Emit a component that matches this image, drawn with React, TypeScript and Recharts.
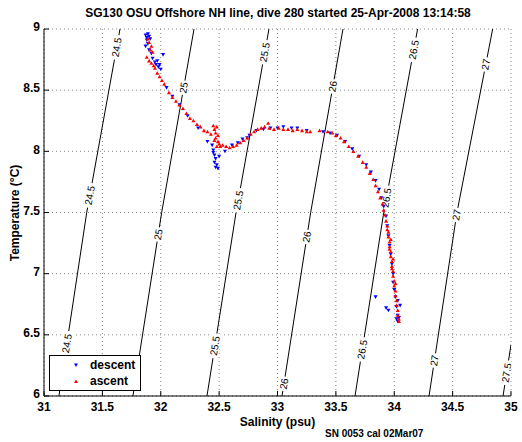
import {
  CartesianGrid,
  ComposedChart,
  Legend,
  Line,
  Scatter,
  XAxis,
  YAxis,
} from 'recharts';

const SALINITY_TICKS = [31, 31.5, 32, 32.5, 33, 33.5, 34, 34.5, 35];
const TEMP_TICKS = [6, 6.5, 7, 7.5, 8, 8.5, 9];

// sigma-t isopycnals as [salinity, temperature]
const SIGMA_24_5 = [[31.128, 6], [31.366, 7.5], [31.651, 9]];
const SIGMA_25 = [[31.762, 6], [32.008, 7.5], [32.285, 9]];
const SIGMA_25_5 = [[32.396, 6], [32.645, 7.5], [32.927, 9]];
const SIGMA_26 = [[33.039, 6], [33.284, 7.5], [33.561, 9]];
const SIGMA_26_5 = [[33.664, 6], [33.91, 7.5], [34.2, 9]];
const SIGMA_27 = [[34.298, 6], [34.537, 7.5], [34.843, 9]];
const SIGMA_27_5 = [[34.932, 6], [35.0, 6.42]];

// temperatures where each contour carries its label
const LABELS_24_5 = [8.85, 7.64, 6.43];
const LABELS_25 = [8.52, 7.32];
const LABELS_25_5 = [8.81, 7.6, 6.41];
const LABELS_26 = [8.53, 7.3, 6.1];
const LABELS_26_5 = [8.83, 7.62, 6.38];
const LABELS_27 = [8.71, 7.48, 6.29];
const LABELS_27_5 = [6.19];

const DESCENT = [
  [31.87, 8.95], [31.88, 8.93], [31.89, 8.96], [31.9, 8.94], [31.88, 8.91],
  [31.91, 8.92], [31.89, 8.88], [31.87, 8.86], [31.9, 8.83], [31.92, 8.8],
  [31.93, 8.76], [31.95, 8.73], [31.96, 8.71], [31.98, 8.69], [31.97, 8.74],
  [32.0, 8.67], [31.99, 8.71], [32.02, 8.79], [32.05, 8.52], [32.1, 8.45],
  [32.16, 8.38], [32.23, 8.29], [32.32, 8.19], [32.4, 8.08], [32.44, 8.05],
  [32.45, 8.01], [32.46, 7.97], [32.47, 7.94], [32.46, 7.91], [32.48, 7.89],
  [32.47, 7.87], [32.49, 7.86], [32.45, 7.99], [32.5, 7.96], [32.55, 8.0],
  [32.61, 8.05], [32.66, 8.07], [32.7, 8.1], [32.74, 8.11], [32.76, 8.13],
  [32.82, 8.17], [32.88, 8.18], [32.94, 8.19], [33.0, 8.19], [33.05, 8.2],
  [33.12, 8.19], [33.17, 8.19], [33.25, 8.17], [33.39, 8.16], [33.45, 8.15],
  [33.51, 8.13], [33.58, 8.08], [33.64, 8.02], [33.7, 7.96], [33.76, 7.89],
  [33.8, 7.83], [33.84, 7.76], [33.87, 7.69], [33.89, 7.62], [33.91, 7.55],
  [33.93, 7.47], [33.94, 7.39], [33.95, 7.31], [33.96, 7.23], [33.97, 7.16],
  [33.98, 7.08], [33.99, 7.0], [33.99, 6.93], [34.0, 6.87], [34.01, 6.81],
  [34.02, 6.73], [34.03, 6.66], [34.02, 6.63], [34.04, 6.64], [33.84, 6.81],
  [33.93, 6.72], [33.95, 6.7], [34.03, 6.78], [34.05, 6.74], [34.03, 6.61],
];

const ASCENT = [
  [31.89, 8.92], [31.9, 8.89], [31.92, 8.86], [31.91, 8.83], [31.93, 8.81],
  [31.88, 8.77], [31.9, 8.74], [31.92, 8.72], [31.94, 8.7], [31.95, 8.68],
  [31.97, 8.64], [31.99, 8.61], [32.01, 8.58], [32.03, 8.55], [32.07, 8.48],
  [32.1, 8.44], [32.13, 8.41], [32.16, 8.38], [32.19, 8.35], [32.22, 8.31],
  [32.25, 8.27], [32.28, 8.25], [32.31, 8.22], [32.34, 8.2], [32.37, 8.17],
  [32.4, 8.16], [32.43, 8.14], [32.45, 8.21], [32.46, 8.18], [32.47, 8.15],
  [32.48, 8.2], [32.49, 8.13], [32.47, 8.11], [32.46, 8.09], [32.49, 8.08],
  [32.5, 8.06], [32.51, 8.04], [32.48, 8.04], [32.53, 8.05], [32.56, 8.04],
  [32.59, 8.03], [32.62, 8.04], [32.65, 8.05], [32.68, 8.07], [32.71, 8.09],
  [32.74, 8.11], [32.77, 8.14], [32.8, 8.16], [32.83, 8.18], [32.86, 8.19],
  [32.89, 8.2], [32.92, 8.23], [32.93, 8.19], [32.97, 8.18], [33.01, 8.19],
  [33.05, 8.18], [33.09, 8.18], [33.13, 8.17], [33.17, 8.18], [33.21, 8.17],
  [33.25, 8.16], [33.28, 8.16], [33.36, 8.17], [33.43, 8.16], [33.47, 8.15],
  [33.5, 8.13], [33.54, 8.11], [33.57, 8.08], [33.61, 8.04], [33.65, 8.0],
  [33.69, 7.96], [33.73, 7.91], [33.76, 7.87], [33.79, 7.82], [33.82, 7.77],
  [33.84, 7.72], [33.86, 7.67], [33.88, 7.62], [33.9, 7.57], [33.91, 7.52],
  [33.92, 7.48], [33.93, 7.43], [33.94, 7.39], [33.95, 7.34], [33.95, 7.3],
  [33.96, 7.26], [33.96, 7.22], [33.97, 7.18], [33.97, 7.14], [33.98, 7.1],
  [33.98, 7.06], [33.99, 7.02], [33.99, 6.98], [34.0, 6.94], [34.0, 6.9],
  [34.01, 6.86], [34.01, 6.82], [34.02, 6.78], [34.02, 6.74], [34.03, 6.7],
  [34.03, 6.66], [34.04, 6.63], [34.04, 6.61], [33.94, 7.36], [33.96, 7.2],
  [33.98, 7.04], [33.97, 7.28], [33.99, 7.12], [34.01, 6.92],
];

const ISOPYCNALS = [
  { level: '24.5', pts: SIGMA_24_5, labels: LABELS_24_5 },
  { level: '25', pts: SIGMA_25, labels: LABELS_25 },
  { level: '25.5', pts: SIGMA_25_5, labels: LABELS_25_5 },
  { level: '26', pts: SIGMA_26, labels: LABELS_26 },
  { level: '26.5', pts: SIGMA_26_5, labels: LABELS_26_5 },
  { level: '27', pts: SIGMA_27, labels: LABELS_27 },
  { level: '27.5', pts: SIGMA_27_5, labels: LABELS_27_5 },
];

const FONT = '"Liberation Sans", Arial, Helvetica, sans-serif';

const toRows = (pairs: number[][]) => pairs.map(([s, t]) => ({ s, t }));

// salinity on a contour at temperature t (to place its label on the line)
function salinityAt(pts: number[][], t: number) {
  for (let i = 0; i < pts.length - 1; i++) {
    const [s0, t0] = pts[i];
    const [s1, t1] = pts[i + 1];
    if (t >= t0 && t <= t1) return s0 + ((t - t0) / (t1 - t0)) * (s1 - s0);
  }
  return pts[pts.length - 1][0];
}

const labelRows = ISOPYCNALS.flatMap((iso) =>
  iso.labels.map((t) => ({ s: salinityAt(iso.pts, t), t, text: iso.level })),
);

function DownTri({ cx, cy }: any) {
  return (
    <polygon
      points={`${cx - 2},${cy - 1.6} ${cx + 2},${cy - 1.6} ${cx},${cy + 2}`}
      fill="#0000ff"
    />
  );
}

function UpTri({ cx, cy }: any) {
  return (
    <polygon
      points={`${cx - 2},${cy + 1.6} ${cx + 2},${cy + 1.6} ${cx},${cy - 2}`}
      fill="#ff0000"
    />
  );
}

function ContourLabel({ cx, cy, payload }: any) {
  const text = payload.text as string;
  const w = text.length * 5.2 + 4;
  return (
    <g transform={`rotate(-80 ${cx} ${cy})`}>
      <rect x={cx - w / 2} y={cy - 5} width={w} height={10} fill="#fff" />
      <text
        x={cx}
        y={cy}
        textAnchor="middle"
        dominantBaseline="central"
        fontSize={10}
        fontFamily={FONT}
        fill="#000"
      >
        {text}
      </text>
    </g>
  );
}

function LegendBox() {
  const row = (color: string, down: boolean, label: string) => (
    <div style={{ display: 'flex', alignItems: 'center', height: 16 }}>
      <svg width={40} height={16}>
        <polygon
          points={down ? '24,6.5 28,6.5 26,10' : '24,10 28,10 26,6.5'}
          fill={color}
        />
      </svg>
      <span style={{ fontWeight: 'bold', fontSize: 12, fontFamily: FONT }}>{label}</span>
    </div>
  );
  return (
    <div
      style={{
        width: 92,
        height: 36,
        boxSizing: 'border-box',
        border: '1px solid #000',
        background: '#fff',
        padding: '1px 0',
      }}
    >
      {row('#0000ff', true, 'descent')}
      {row('#ff0000', false, 'ascent')}
    </div>
  );
}

export default function App() {
  const tickStyle = { fill: '#000', fontSize: 12, fontWeight: 'bold', fontFamily: FONT };
  return (
    <div
      style={{
        position: 'absolute',
        left: 0,
        top: 0,
        width: 522,
        height: 442,
        background: '#fff',
        fontFamily: FONT,
      }}
    >
      <div
        style={{
          position: 'absolute',
          top: 6,
          left: 0,
          width: 556,
          textAlign: 'center',
          fontSize: 12,
          fontWeight: 'bold',
        }}
      >
        SG130 OSU Offshore NH line, dive 280 started 25-Apr-2008 13:14:58
      </div>
      <div
        style={{
          position: 'absolute',
          top: 428,
          left: 325,
          fontSize: 10,
          fontWeight: 'bold',
        }}
      >
        SN 0053 cal 02Mar07
      </div>
      <ComposedChart
        width={522}
        height={442}
        margin={{ top: 29, right: 11, bottom: 26, left: 14 }}
      >
        <CartesianGrid stroke="#888" strokeDasharray="1 3" />
        <XAxis
          type="number"
          dataKey="s"
          domain={[31, 35]}
          ticks={SALINITY_TICKS}
          allowDataOverflow
          height={20}
          stroke="#000"
          tickSize={-5}
          tickMargin={11}
          tick={tickStyle}
          label={{
            value: 'Salinity (psu)',
            position: 'bottom',
            offset: 1,
            fill: '#000',
            fontSize: 12,
            fontWeight: 'bold',
          }}
        />
        <XAxis
          xAxisId="top"
          orientation="top"
          type="number"
          domain={[31, 35]}
          ticks={SALINITY_TICKS}
          allowDataOverflow
          height={0}
          stroke="#000"
          tickSize={-5}
          tick={false}
        />
        <YAxis
          type="number"
          dataKey="t"
          domain={[6, 9]}
          ticks={TEMP_TICKS}
          allowDataOverflow
          width={30}
          stroke="#000"
          tickSize={-5}
          tickMargin={9}
          tick={{ ...tickStyle, dy: -2 }}
          label={{
            content: () => (
              <text
                x={15}
                y={213}
                transform="rotate(-90 15 213)"
                textAnchor="middle"
                dominantBaseline="central"
                fontSize={12}
                fontWeight="bold"
                fontFamily={FONT}
                fill="#000"
              >
                Temperature (°C)
              </text>
            ),
          }}
        />
        <YAxis
          yAxisId="right"
          orientation="right"
          type="number"
          domain={[6, 9]}
          ticks={TEMP_TICKS}
          allowDataOverflow
          width={0}
          stroke="#000"
          tickSize={-5}
          tick={false}
        />
        {ISOPYCNALS.map((iso) => (
          <Line
            key={iso.level}
            data={toRows(iso.pts)}
            dataKey="t"
            type="linear"
            stroke="#000"
            strokeWidth={1}
            dot={false}
            activeDot={false}
            legendType="none"
            isAnimationActive={false}
          />
        ))}
        <Scatter
          data={labelRows}
          dataKey="t"
          shape={ContourLabel}
          legendType="none"
          isAnimationActive={false}
        />
        <Scatter
          name="descent"
          data={toRows(DESCENT)}
          dataKey="t"
          shape={DownTri}
          isAnimationActive={false}
        />
        <Scatter
          name="ascent"
          data={toRows(ASCENT)}
          dataKey="t"
          shape={UpTri}
          isAnimationActive={false}
        />
        <Legend
          layout="vertical"
          align="center"
          verticalAlign="middle"
          content={() => <LegendBox />}
          wrapperStyle={{ position: 'absolute', left: 49, top: 355, width: 92, height: 36 }}
        />
      </ComposedChart>
    </div>
  );
}
